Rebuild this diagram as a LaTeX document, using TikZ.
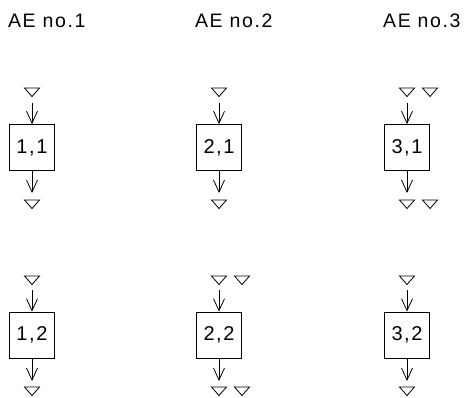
\documentclass[tikz,border=0pt]{standalone}
\usepackage{fontspec}
\setmainfont{Liberation Sans}
\newfontfamily\titlefont[LetterSpace=8]{Liberation Sans}
\usetikzlibrary{arrows.meta}
\begin{document}
\begin{tikzpicture}[x=1pt,y=-1pt,
  unitbox/.style={draw, line width=0.8pt, minimum width=45pt, minimum height=46pt, inner sep=0pt,
    font=\titlefont\fontsize{20}{20}\selectfont},
  flow/.style={line width=0.8pt, -{Straight Barb[length=12pt,width=11pt,line width=0.8pt]}},
  aetitle/.style={font=\titlefont\fontsize{19.5}{19.5}\selectfont, anchor=west, inner sep=0pt},
  tri/.pic={\draw[line width=0.8pt, line join=miter] (-7.5,0) -- (7.5,0) -- (0,8.5) -- cycle;}
]
\useasboundingbox (0,0) rectangle (468,398);

% titles
\node[aetitle] (h1) at (8,21) {AE no.1};
\node[aetitle] (h2) at (195,21) {AE no.2};
\node[aetitle] (h3) at (383,21) {AE no.3};

% boxes
\node[unitbox] (b11) at (32,147.5) {1,1};
\node[unitbox] (b21) at (219,147.5) {2,1};
\node[unitbox] (b31) at (407,147.5) {3,1};
\node[unitbox] (b12) at (32,335) {1,2};
\node[unitbox] (b22) at (219,335) {2,2};
\node[unitbox] (b32) at (407,335) {3,2};

% triangles, row 1
\pic at (32,88) {tri};
\pic at (219,88) {tri};
\pic at (407,88) {tri};
\pic at (430,88) {tri};
\pic at (32,200) {tri};
\pic at (219,200) {tri};
\pic at (407,200) {tri};
\pic at (430,200) {tri};
% triangles, row 2
\pic at (32,276) {tri};
\pic at (219,276) {tri};
\pic at (242,276) {tri};
\pic at (407,276) {tri};
\pic at (32,387) {tri};
\pic at (219,387) {tri};
\pic at (242,387) {tri};
\pic at (407,387) {tri};

% connector ends
\coordinate (s11) at (32,103);
\coordinate (s21) at (219,103);
\coordinate (s31) at (407,103);
\coordinate (e11) at (32,193);
\coordinate (e21) at (219,193);
\coordinate (e31) at (407,193);
\coordinate (s12) at (32,290);
\coordinate (s22) at (219,290);
\coordinate (s32) at (407,290);
\coordinate (e12) at (32,381);
\coordinate (e22) at (219,381);
\coordinate (e32) at (407,381);

\foreach \c in {11,21,31,12,22,32}{
  \draw[flow] (s\c) -- (b\c.north);
  \draw[flow] (b\c.south) -- (e\c);
}
\end{tikzpicture}
\end{document}
